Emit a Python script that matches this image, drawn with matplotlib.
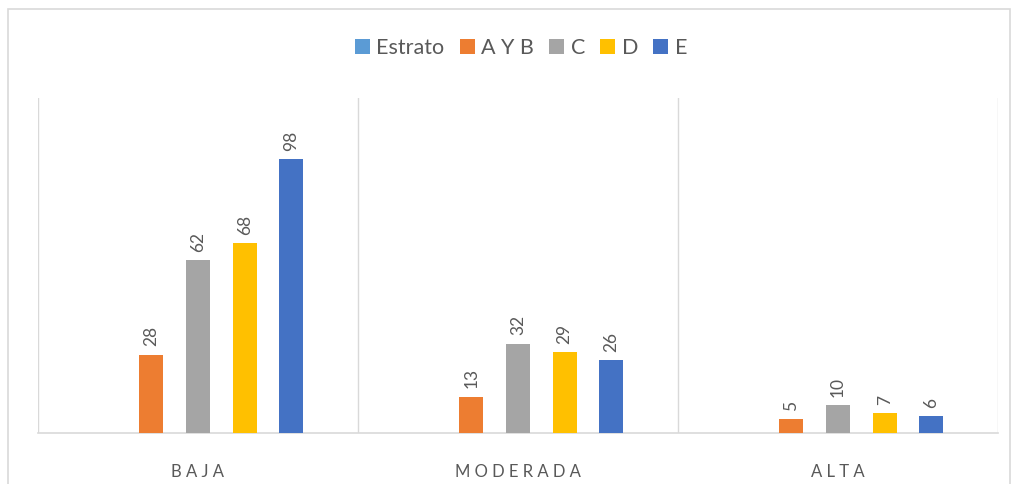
import matplotlib
matplotlib.use("Agg")
import matplotlib.pyplot as plt
from matplotlib.patches import Rectangle
import numpy as np

categories = ["BAJA", "MODERADA", "ALTA"]
series_names = ["Estrato", "A Y B", "C", "D", "E"]
estrato = [None, None, None]
ayb = [28, 13, 5]
c_vals = [62, 32, 10]
d_vals = [68, 29, 7]
e_vals = [98, 26, 6]
colors = ["#5B9BD5", "#ED7D31", "#A5A5A5", "#FFC000", "#4472C4"]

plt.rcParams['font.family'] = ['Lato', 'DejaVu Sans']
fig = plt.figure(figsize=(10.12, 4.84), dpi=100)
fig.patches.append(Rectangle((8/1012, -0.1), (1010-8)/1012, 1.1 - 9/484,
                             transform=fig.transFigure, fill=False,
                             edgecolor="#D9D9D9", linewidth=1.2))
ax = fig.add_axes([38/1012, 51/484, 960/1012, 335/484])

x = np.arange(len(categories))
slot = 46.7 / 320
width = 24 / 320
all_series = [estrato, ayb, c_vals, d_vals, e_vals]
for i, (name, vals, col) in enumerate(zip(series_names, all_series, colors)):
    v = [0 if a is None else a for a in vals]
    pos = x + (i - 2) * slot
    ax.bar(pos, v, width, color=col, label=name, zorder=3)
    for p, a in zip(pos, vals):
        if a is not None:
            ax.annotate(str(a), (p, a), xytext=(0, 6), textcoords="offset points",
                        rotation=90, ha="center", va="bottom", fontsize=12.5,
                        color="#595959")

ax.set_xlim(-0.5, len(categories) - 0.5)
ax.set_ylim(0, 120)
ax.set_yticks([])
ax.set_xticks(x)
ax.set_xticklabels([" ".join(list(c)) for c in categories],
                   fontsize=12, color="#595959")
ax.tick_params(axis="x", length=0, pad=22)
for b in np.arange(-0.5, len(categories), 1.0):
    ax.axvline(b, color="#D9D9D9", linewidth=1, zorder=1)
for s in ["top", "left", "right"]:
    ax.spines[s].set_visible(False)
ax.spines["bottom"].set_color("#D9D9D9")
ax.spines["bottom"].set_linewidth(1.2)

leg = fig.legend(loc="center", bbox_to_anchor=(521/1012, 1 - 48/484), ncol=5,
                 frameon=False, fontsize=15.5, handlelength=0.7, handleheight=0.75,
                 handletextpad=0.3, columnspacing=0.7)
for t in leg.get_texts():
    t.set_color("#595959")

fig.savefig("out.png", dpi=100)
